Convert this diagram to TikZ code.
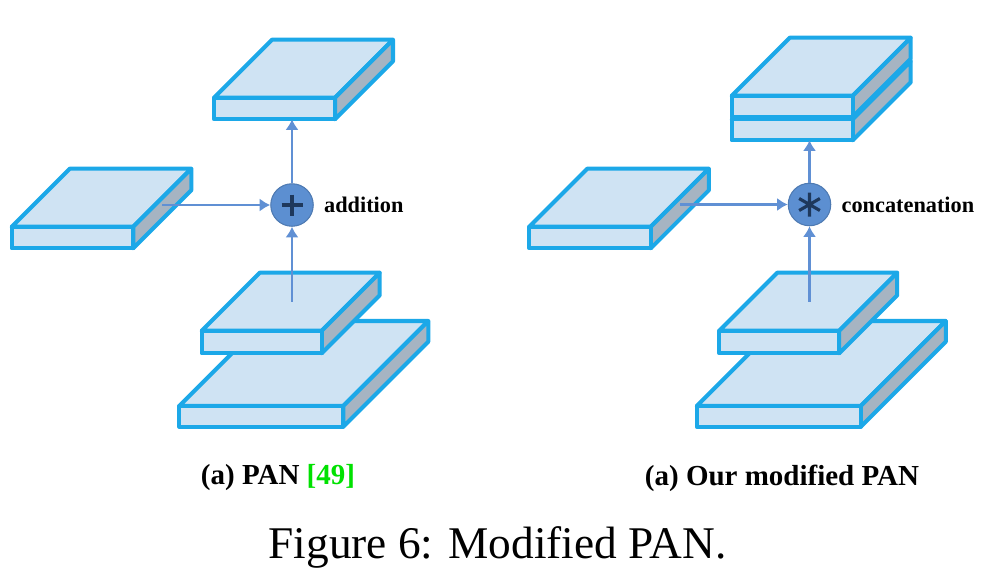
\documentclass[tikz,border=0pt]{standalone}
\usepackage{fontspec}
\setmainfont{Liberation Serif}
\usetikzlibrary{arrows.meta}

\definecolor{slabedge}{RGB}{28,168,232}
\definecolor{slabfill}{RGB}{207,227,243}
\definecolor{slabside}{RGB}{166,180,194}
\definecolor{flowblue}{RGB}{96,144,212}
\definecolor{opfill}{RGB}{92,143,209}
\definecolor{opmark}{RGB}{30,56,92}
\definecolor{citegreen}{RGB}{0,225,0}

\tikzset{
  slab edge/.style = {
    draw = slabedge,
    line width = 2.3pt,
    line join = round},
  flow/.style = {
    draw = flowblue,
    line width = 1.6pt,
    -{Latex[length = 6pt, width = 7.5pt]}},
  op/.style = {
    shape = circle,
    fill  = opfill,
    draw  = opfill!85!black,
    line width = 0.6pt,
    minimum size = 0.85cm,
    inner sep = 0pt},
  plus op/.style = {
    op,
    path picture = {
      \draw[opmark, line width = 2.3pt]
        (path picture bounding box.center) +(-10.5,0) -- +(10.5,0)
        (path picture bounding box.center) +(0,-10.5) -- +(0,10.5);}},
  star op/.style = {
    op,
    path picture = {
      \draw[opmark, line width = 1.8pt]
        (path picture bounding box.center) +(90:12) -- +(270:12)
        (path picture bounding box.center) +(30:12) -- +(210:12)
        (path picture bounding box.center) +(150:12) -- +(330:12);}},
  op label/.style = {
    anchor = west,
    inner sep = 0pt,
    xshift = 0.2cm,
    font = \bfseries\fontsize{12.7}{15}\selectfont},
  sub caption/.style = {
    font = \bfseries\fontsize{16.5}{20}\selectfont},
  main caption/.style = {
    font = \fontsize{25.8}{30}\selectfont}
}

% #1 name, #2 #3 front top-left corner, #4 width, #5 depth, #6 thickness
\newcommand{\slab}[6]{%
  \begin{scope}[shift = {(#2,#3)}]
    \filldraw[slab edge, fill = slabfill]
      (0,0) -- (#5,-#5) -- ({#4+#5},-#5) -- (#4,0) -- cycle;
    \filldraw[slab edge, fill = slabside]
      (#4,0) -- ({#4+#5},-#5) -- ({#4+#5},{#6-#5}) -- (#4,#6) -- cycle;
    \filldraw[slab edge, fill = slabfill] (0,0) rectangle (#4,#6);
    \coordinate (#1-t) at ({(#4+#5)/2},{-#5/2});
    \coordinate (#1-s) at ({#4+#5/2},{(#6-#5)/2});
    \coordinate (#1-b) at ({#4/2},#6);
  \end{scope}}

\begin{document}
\begin{tikzpicture}[x = 0.02cm, y = -0.02cm]
  \useasboundingbox (0,0) rectangle (1000,578);

  % (a) PAN
  \slab{big}{179.3}{406}{164}{85}{20.7}
  \slab{low}{201.7}{330.7}{120}{58}{22.6}
  \slab{lat}{11.7}{226.7}{121.6}{58}{21.6}
  \slab{up}{214}{97.7}{121}{58}{21.6}
  \node[plus op] (add) at (292,205) {};
  \node[op label] (addlbl) at (add.east) {addition};
  \draw[flow] (lat-s |- add) -- (add.west);
  \draw[flow] (add |- low-t) -- (add.south);
  \draw[flow] (add.north) -- (add.north |- up-b);

  % (a) modified PAN
  \slab{bigm}{696.8}{406}{164}{85}{20.7}
  \slab{lowm}{719.2}{330.7}{120}{58}{22.6}
  \slab{latm}{529.2}{226.7}{121.6}{58}{21.6}
  \slab{catb}{731.7}{119.3}{121}{58}{21}
  \slab{cata}{731.7}{95.7}{121}{58}{21}
  \node[star op] (cat) at (809.5,204.5) {};
  \node[op label] (catlbl) at (cat.east) {concatenation};
  \draw[flow] (latm-s |- cat) -- (cat.west);
  \draw[flow] (cat |- lowm-t) -- (cat.south);
  \draw[flow] (cat.north) -- (cat.north |- catb-b);

  % captions
  \node[sub caption] (capa) at (278,478) {(a) PAN \textcolor{citegreen}{[49]}};
  \node[sub caption] (capb) at (782,478) {(a) Our modified PAN};
  \node[main caption] (fig) at (497.5,547) {Figure 6: Modified PAN.};
\end{tikzpicture}
\end{document}
